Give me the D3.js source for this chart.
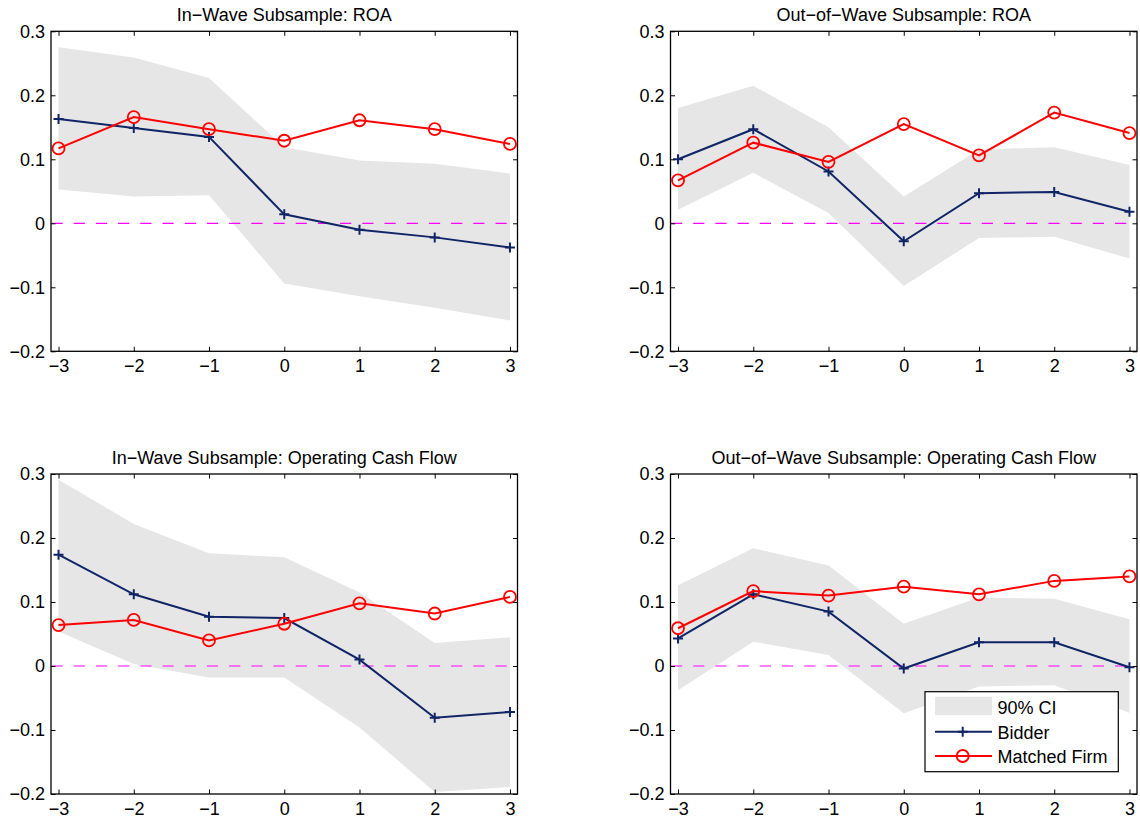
<!DOCTYPE html>
<html>
<head>
<meta charset="utf-8">
<script src="https://cdn.jsdelivr.net/npm/d3@7"></script>
<style>
  body { margin: 0; background: #fff; }
  text { font-family: "Liberation Sans", Arial, Helvetica, sans-serif; fill: #000; }
</style>
</head>
<body>
<script>
// event years around the acquisition
const years = [-3, -2, -1, 0, 1, 2, 3];

// tick labels for both axes
const yTicks = [-0.2, -0.1, 0, 0.1, 0.2, 0.3];
const xTicks = [-3, -2, -1, 0, 1, 2, 3];

// panel titles
const titles = [
  "In\u2212Wave Subsample: ROA",
  "Out\u2212of\u2212Wave Subsample: ROA",
  "In\u2212Wave Subsample: Operating Cash Flow",
  "Out\u2212of\u2212Wave Subsample: Operating Cash Flow"
];

// In-wave ROA
const inRoaBidder  = [0.163, 0.149, 0.135, 0.014, -0.010, -0.022, -0.038];
const inRoaMatched = [0.117, 0.166, 0.147, 0.129, 0.161, 0.147, 0.124];
const inRoaHigh    = [0.275, 0.259, 0.227, 0.119, 0.098, 0.093, 0.078];
const inRoaLow     = [0.053, 0.042, 0.044, -0.094, -0.114, -0.132, -0.152];

// Out-of-wave ROA
const outRoaBidder  = [0.100, 0.147, 0.081, -0.028, 0.047, 0.049, 0.018];
const outRoaMatched = [0.067, 0.126, 0.096, 0.155, 0.106, 0.173, 0.141];
const outRoaHigh    = [0.180, 0.215, 0.150, 0.042, 0.115, 0.119, 0.091];
const outRoaLow     = [0.021, 0.079, 0.016, -0.098, -0.023, -0.021, -0.055];

// In-wave operating cash flow
const inCfBidder  = [0.174, 0.112, 0.077, 0.075, 0.010, -0.081, -0.072];
const inCfMatched = [0.064, 0.072, 0.040, 0.066, 0.098, 0.082, 0.108];
const inCfHigh    = [0.291, 0.222, 0.176, 0.170, 0.115, 0.036, 0.045];
const inCfLow     = [0.054, 0.003, -0.018, -0.018, -0.096, -0.197, -0.189];

// Out-of-wave operating cash flow
const outCfBidder  = [0.043, 0.112, 0.085, -0.004, 0.037, 0.037, -0.002];
const outCfMatched = [0.059, 0.117, 0.110, 0.124, 0.112, 0.133, 0.140];
const outCfHigh    = [0.126, 0.184, 0.157, 0.066, 0.107, 0.105, 0.073];
const outCfLow     = [-0.038, 0.038, 0.017, -0.074, -0.032, -0.030, -0.073];

const panels = [
  {title: titles[0], bidder: inRoaBidder,  matched: inRoaMatched,  hi: inRoaHigh,  lo: inRoaLow,  col: 0, row: 0},
  {title: titles[1], bidder: outRoaBidder, matched: outRoaMatched, hi: outRoaHigh, lo: outRoaLow, col: 1, row: 0},
  {title: titles[2], bidder: inCfBidder,   matched: inCfMatched,   hi: inCfHigh,   lo: inCfLow,   col: 0, row: 1},
  {title: titles[3], bidder: outCfBidder,  matched: outCfMatched,  hi: outCfHigh,  lo: outCfLow,  col: 1, row: 1}
];

const navy = "#112566",
      red = "#ff0000",
      ciGray = "#e6e6e6",
      magenta = "#ff00ff";

const svgWidth = 1140, svgHeight = 821;
const plotW = 466.5, plotH = 320;
const colX = [51, 670.5];
const rowY = [31.3, 474];

const svg = d3.select("body")
  .append("svg")
  .attr("width", svgWidth)
  .attr("height", svgHeight);

const x = d3.scaleLinear().domain([-3.1, 3.1]).range([0, plotW]);
const y = d3.scaleLinear().domain([-0.2, 0.3]).range([plotH, 0]);

const yFmt = d => d === 0 ? "0" : d3.format(".1f")(d);
const xFmt = d3.format("d");

panels.forEach(p => {
  const g = svg.append("g")
    .attr("transform", `translate(${colX[p.col]},${rowY[p.row]})`);

  // confidence band
  const area = d3.area()
    .x((d, i) => x(years[i]))
    .y0((d, i) => y(p.lo[i]))
    .y1((d, i) => y(p.hi[i]));
  g.append("path")
    .datum(years)
    .attr("d", area)
    .attr("fill", ciGray);

  // zero line
  g.append("line")
    .attr("x1", 0.5).attr("x2", plotW)
    .attr("y1", y(0)).attr("y2", y(0))
    .attr("stroke", magenta)
    .attr("stroke-width", 1.2)
    .attr("stroke-dasharray", "11.2,11");

  const line = d3.line().x((d, i) => x(years[i])).y(d => y(d));

  // bidder line with plus markers
  g.append("path")
    .datum(p.bidder)
    .attr("d", line)
    .attr("fill", "none")
    .attr("stroke", navy)
    .attr("stroke-width", 2);
  g.selectAll(".plus")
    .data(p.bidder)
    .enter()
    .append("path")
    .attr("d", (d, i) => {
      const cx = x(years[i]), cy = y(d);
      return `M${cx - 5},${cy}H${cx + 5}M${cx},${cy - 5}V${cy + 5}`;
    })
    .attr("stroke", navy)
    .attr("stroke-width", 2);

  // matched firm line with circle markers
  g.append("path")
    .datum(p.matched)
    .attr("d", line)
    .attr("fill", "none")
    .attr("stroke", red)
    .attr("stroke-width", 2);
  g.selectAll(".circ")
    .data(p.matched)
    .enter()
    .append("circle")
    .attr("cx", (d, i) => x(years[i]))
    .attr("cy", d => y(d))
    .attr("r", 6)
    .attr("fill", "none")
    .attr("stroke", red)
    .attr("stroke-width", 1.8);

  // axes with inward ticks on all four sides
  const styleAxis = sel => {
    sel.selectAll("text").style("font-size", "18px").attr("fill", "#000");
    sel.selectAll("line").attr("stroke", "#000");
    sel.select(".domain").remove();
  };
  g.append("g")
    .call(d3.axisLeft(y).tickValues(yTicks).tickFormat(yFmt).tickSize(-4.5).tickPadding(6))
    .call(styleAxis);
  g.append("g")
    .attr("transform", `translate(${plotW},0)`)
    .call(d3.axisRight(y).tickValues(yTicks).tickFormat("").tickSize(-4.5))
    .call(styleAxis);
  g.append("g")
    .attr("transform", `translate(0,${plotH})`)
    .call(d3.axisBottom(x).tickValues(xTicks).tickFormat(xFmt).tickSize(-4.5).tickPadding(8))
    .call(styleAxis);
  g.append("g")
    .call(d3.axisTop(x).tickValues(xTicks).tickFormat("").tickSize(-4.5))
    .call(styleAxis);

  g.append("rect")
    .attr("width", plotW)
    .attr("height", plotH)
    .attr("fill", "none")
    .attr("stroke", "#000")
    .attr("stroke-width", 1.3);

  g.append("text")
    .text(p.title)
    .attr("x", plotW / 2)
    .attr("y", -10)
    .attr("text-anchor", "middle")
    .style("font-size", "18px");
});

// legend in the last panel
const legendItems = ["90% CI", "Bidder", "Matched Firm"];
const leg = svg.append("g").attr("transform", "translate(925,691.7)");
leg.append("rect")
  .attr("width", 193.3)
  .attr("height", 80)
  .attr("fill", "#fff")
  .attr("stroke", "#000")
  .attr("stroke-width", 1.2);
leg.append("rect")
  .attr("x", 10).attr("y", 5)
  .attr("width", 57).attr("height", 18.5)
  .attr("fill", ciGray);
leg.append("line")
  .attr("x1", 10).attr("x2", 67).attr("y1", 40).attr("y2", 40)
  .attr("stroke", navy).attr("stroke-width", 2);
leg.append("path")
  .attr("d", "M32.7,40H42.7M37.7,35V45")
  .attr("stroke", navy).attr("stroke-width", 2);
leg.append("line")
  .attr("x1", 10).attr("x2", 67).attr("y1", 64.3).attr("y2", 64.3)
  .attr("stroke", red).attr("stroke-width", 2);
leg.append("circle")
  .attr("cx", 37.7).attr("cy", 64.3).attr("r", 6)
  .attr("fill", "none").attr("stroke", red).attr("stroke-width", 1.8);
leg.selectAll(".ltext")
  .data(legendItems)
  .enter()
  .append("text")
  .text(d => d)
  .attr("x", 72.5)
  .attr("y", (d, i) => 22.5 + i * 24.5)
  .style("font-size", "18px");
</script>
</body>
</html>
